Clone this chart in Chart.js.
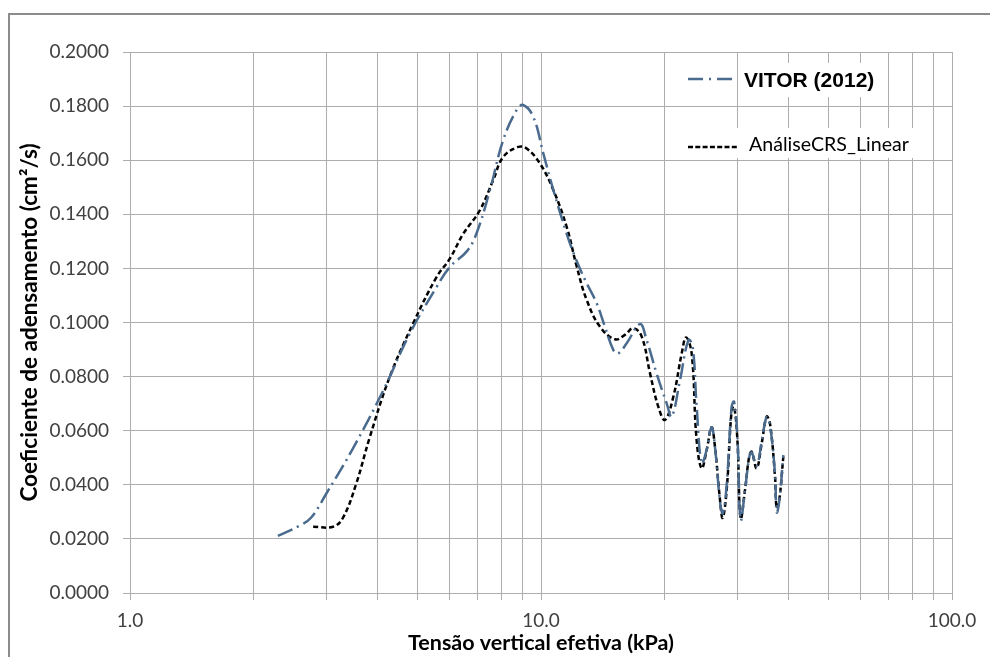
<!DOCTYPE html>
<html>
<head>
<meta charset="utf-8">
<script src="https://cdn.jsdelivr.net/npm/chart.js@4/dist/chart.umd.min.js"></script>
<style>
  html, body { margin: 0; padding: 0; background: #fff; }
  #wrap { width: 990px; height: 657px; }
</style>
</head>
<body>
<div id="wrap"><canvas id="chart" width="990" height="657"></canvas></div>
<script>
// VITOR (2012) - tensão (kPa) / cv (cm²/s)
const VITOR_X = [2.29, 2.58, 2.76, 3.0, 3.48, 4.13, 4.79, 5.57, 6.0, 6.59, 6.97, 7.51, 8.09, 8.72, 9.05,
  9.58, 10.13, 10.72, 11.55, 12.1, 12.8, 13.66, 14.31, 15.0, 15.42, 16.16, 17.41, 18.07, 19.11, 20.22,
  20.8, 21.79, 22.84, 23.39, 23.92, 24.6, 25.3, 26.0, 26.5, 27.3, 27.7, 28.3, 29.1, 29.5, 30.05, 30.6,
  31.36, 32.1, 32.55, 33.48, 34.43, 35.4, 36.07, 37.1, 37.45, 38.0, 38.87];
const VITOR_Y = [0.0211, 0.0248, 0.0279, 0.0366, 0.0532, 0.0748, 0.0958, 0.1131, 0.1205, 0.1262, 0.1330,
  0.1489, 0.1674, 0.1785, 0.1804, 0.1760, 0.1625, 0.1489, 0.1328, 0.1243, 0.1157, 0.1071, 0.0984, 0.0898,
  0.0886, 0.0923, 0.0994, 0.0935, 0.0812, 0.0701, 0.0652, 0.0787, 0.0935, 0.0911, 0.0689, 0.0480, 0.0530,
  0.0613, 0.0540, 0.0330, 0.0295, 0.0400, 0.0690, 0.0707, 0.0580, 0.0270, 0.0380, 0.0500, 0.0520, 0.0470,
  0.0560, 0.0650, 0.0620, 0.0440, 0.0298, 0.0340, 0.0510];

// AnáliseCRS_Linear
const CRS_X = [2.79, 3.12, 3.30, 3.55, 3.83, 4.28, 4.88, 5.57, 6.0, 6.47, 7.1, 7.65, 8.09, 8.81, 9.23,
  9.94, 10.72, 11.55, 12.22, 12.92, 13.92, 15.14, 16.0, 16.77, 17.58, 18.42, 19.29, 20.03, 20.99, 22.0,
  22.54, 23.26, 23.91, 24.6, 25.3, 26.0, 26.5, 27.26, 27.67, 28.3, 29.1, 29.5, 30.05, 30.6, 31.36, 32.1,
  32.55, 33.48, 34.43, 35.4, 36.07, 37.1, 37.45, 38.0, 38.87];
const CRS_Y = [0.0245, 0.0245, 0.0279, 0.0403, 0.0575, 0.0797, 0.0995, 0.1168, 0.1236, 0.1328, 0.1415,
  0.1526, 0.1612, 0.1649, 0.1643, 0.1588, 0.1489, 0.1353, 0.1206, 0.1083, 0.0984, 0.0938, 0.0954, 0.0979,
  0.0948, 0.0812, 0.0689, 0.0640, 0.0726, 0.0886, 0.0945, 0.0886, 0.0566, 0.0461, 0.0529, 0.0613, 0.0541,
  0.0344, 0.0278, 0.0381, 0.0677, 0.0689, 0.0566, 0.0276, 0.0381, 0.0504, 0.0522, 0.0461, 0.0553, 0.0652,
  0.0627, 0.0430, 0.0313, 0.0344, 0.0504];

const X_TICK_LABELS = ['1.0', '10.0', '100.0'];
const Y_TICK_LABELS = ['0.0000', '0.0200', '0.0400', '0.0600', '0.0800', '0.1000',
  '0.1200', '0.1400', '0.1600', '0.1800', '0.2000'];

const GRID = '#adadad';
const TICK_TXT = '#404040';
const BLUE = '#4a6b8e';

const toPoints = (xs, ys) => xs.map((x, i) => ({ x, y: ys[i] }));

// 1..9, 10..90, 100 for the log grid
function logGrid() {
  const out = [];
  for (let d = 1; d <= 10; d *= 10) {
    for (let m = 1; m < 10; m++) out.push(m * d);
  }
  out.push(100);
  return out;
}

const frameAndLegend = {
  id: 'frameAndLegend',
  afterDraw(chart) {
    const ctx = chart.ctx;
    ctx.save();
    // outer frame
    ctx.strokeStyle = '#8c8c8c';
    ctx.lineWidth = 2;
    ctx.strokeRect(9, 14, 1000, 700);

    // legend entry 1
    ctx.fillStyle = '#fff';
    ctx.fillRect(740, 63, 140, 34);
    ctx.strokeStyle = BLUE;
    ctx.lineWidth = 2.5;
    ctx.setLineDash([15, 6, 2, 6]);
    ctx.beginPath();
    ctx.moveTo(688, 79);
    ctx.lineTo(737, 79);
    ctx.stroke();
    ctx.setLineDash([]);
    ctx.fillStyle = '#000';
    ctx.font = 'bold 21px "Liberation Sans", Arial, sans-serif';
    ctx.textBaseline = 'alphabetic';
    ctx.fillText('VITOR (2012)', 744, 87);

    // legend entry 2
    ctx.fillStyle = '#fff';
    ctx.fillRect(684, 128, 234, 30);
    ctx.strokeStyle = '#000';
    ctx.lineWidth = 2.5;
    ctx.setLineDash([5, 2.3]);
    ctx.beginPath();
    ctx.moveTo(688, 147);
    ctx.lineTo(738, 147);
    ctx.stroke();
    ctx.setLineDash([]);
    ctx.fillStyle = '#000';
    ctx.font = '19.6px Lato, "Open Sans", sans-serif';
    ctx.fillText('AnáliseCRS_Linear', 749, 151);
    ctx.restore();
  },
};

new Chart(document.getElementById('chart'), {
  type: 'scatter',
  data: {
    datasets: [
      {
        label: 'VITOR (2012)',
        data: toPoints(VITOR_X, VITOR_Y),
        showLine: true,
        borderColor: BLUE,
        borderWidth: 2.5,
        borderDash: [16, 5, 2, 5],
        pointRadius: 0,
        tension: 0.4,
      },
      {
        label: 'AnáliseCRS_Linear',
        data: toPoints(CRS_X, CRS_Y),
        showLine: true,
        borderColor: '#000',
        borderWidth: 2.5,
        borderDash: [5, 3],
        pointRadius: 0,
        tension: 0.4,
      },
    ],
  },
  options: {
    responsive: false,
    animation: false,
    layout: { padding: { left: 12, top: 52, right: 38, bottom: 1 } },
    plugins: { legend: { display: false }, tooltip: { enabled: false } },
    scales: {
      x: {
        type: 'logarithmic',
        min: 1,
        max: 100,
        afterBuildTicks: (s) => { s.ticks = logGrid().map((value) => ({ value })); },
        afterFit: (s) => { s.height = 63; },
        grid: { color: GRID, lineWidth: 1, tickLength: 7 },
        border: { color: GRID },
        ticks: {
          autoSkip: false,
          maxRotation: 0,
          padding: 9,
          color: TICK_TXT,
          font: { family: 'Lato', size: 19 },
          callback: (v) => {
            const i = [1, 10, 100].indexOf(v);
            return i >= 0 ? X_TICK_LABELS[i] : '';
          },
        },
        title: {
          display: true,
          text: 'Tensão vertical efetiva (kPa)',
          color: '#000',
          font: { family: 'Lato', size: 21.5, weight: 'bold' },
          padding: { top: 0, bottom: 0 },
        },
      },
      y: {
        min: 0,
        max: 0.2,
        afterBuildTicks: (s) => { s.ticks = Y_TICK_LABELS.map((t) => ({ value: parseFloat(t) })); },
        afterFit: (s) => { s.width = 118; },
        grid: { color: GRID, lineWidth: 1, tickLength: 7 },
        border: { color: GRID },
        ticks: {
          padding: 14,
          color: TICK_TXT,
          font: { family: 'Lato', size: 19 },
          callback: (v, i) => Y_TICK_LABELS[i],
        },
        title: {
          display: true,
          text: 'Coeficiente de adensamento (cm²/s)',
          color: '#000',
          font: { family: 'Lato', size: 22.5, weight: 'bold' },
          padding: { top: 4, bottom: 0 },
        },
      },
    },
  },
  plugins: [frameAndLegend],
});
</script>
</body>
</html>
